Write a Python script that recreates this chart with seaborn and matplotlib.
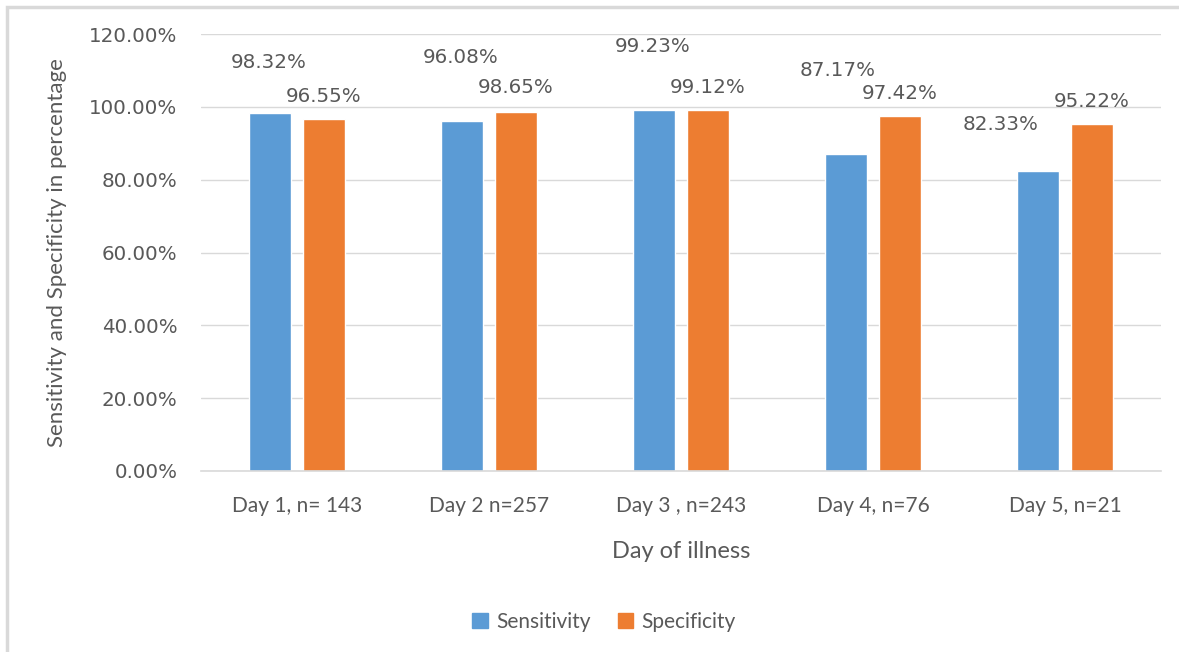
import numpy as np
import pandas as pd
import seaborn as sns
import matplotlib.pyplot as plt
from matplotlib.patches import Rectangle, Patch

# data
days = ["Day 1, n= 143", "Day 2 n=257", "Day 3 , n=243", "Day 4, n=76", "Day 5, n=21"]
sensitivity = [98.32, 96.08, 99.23, 87.17, 82.33]
specificity = [96.55, 98.65, 99.12, 97.42, 95.22]
y_ticks = [0, 20, 40, 60, 80, 100, 120]

# label nudges (pixels), the sensitivity labels were dragged around in the original
sens_dx = [-1, -1, -1, -8, -38]
sens_dy = [50, 64, 63, 83, 47]
spec_dx = [0, 0, 0, 0, 0]
spec_dy = [23, 24, 23, 23, 23]

BLUE = "#5B9BD5"
ORANGE = "#ED7D31"
GRID = "#D9D9D9"
TEXT = "#595959"

df = pd.DataFrame({
    "Day": days * 2,
    "Measure": ["Sensitivity"] * len(days) + ["Specificity"] * len(days),
    "Value": sensitivity + specificity,
})

sns.set_theme(style="white")
plt.rcParams['font.family'] = ['DejaVu Sans']

fig = plt.figure(figsize=(11.79, 6.52), dpi=100)
ax = fig.add_axes([201 / 1179, 1 - 471 / 652, 960 / 1179, 437 / 652])

sns.barplot(data=df, x="Day", y="Value", hue="Measure", order=days,
            palette={"Sensitivity": BLUE, "Specificity": ORANGE},
            width=0.56, gap=0.22, ax=ax, legend=False, saturation=1)

ax.set_xlim(-0.5, len(days) - 0.5)
ax.set_ylim(0, 120)
ax.set_yticks(y_ticks)
ax.set_yticklabels([f"{t:.2f}%" for t in y_ticks], fontsize=14.3, color=TEXT)
ax.yaxis.grid(True, color=GRID, linewidth=1)
ax.set_axisbelow(True)
for s in ["top", "right", "left"]:
    ax.spines[s].set_visible(False)
ax.spines["bottom"].set_color(GRID)
ax.spines["bottom"].set_linewidth(1.2)
ax.tick_params(axis="both", length=0)
ax.tick_params(axis="y", pad=17)
ax.tick_params(axis="x", pad=18)
for lbl in ax.get_xticklabels():
    lbl.set_fontfamily("Lato")
    lbl.set_fontsize(15)
    lbl.set_color(TEXT)

ax.set_xlabel("Day of illness", family="Lato", fontsize=17, color=TEXT, labelpad=18)
ax.set_ylabel("Sensitivity and Specificity in percentage", family="Lato",
              fontsize=16, color=TEXT, labelpad=16)

# data labels
for i in range(len(days)):
    ax.annotate(f"{sensitivity[i]:.2f}%", (i - 0.14, sensitivity[i]),
                xytext=(sens_dx[i], sens_dy[i]), textcoords="offset pixels",
                ha="center", va="center", fontsize=14.3, color=TEXT)
    ax.annotate(f"{specificity[i]:.2f}%", (i + 0.14, specificity[i]),
                xytext=(spec_dx[i], spec_dy[i]), textcoords="offset pixels",
                ha="center", va="center", fontsize=14.3, color=TEXT)

handles = [Patch(color=BLUE, label="Sensitivity"), Patch(color=ORANGE, label="Specificity")]
fig.legend(handles=handles, loc="center", bbox_to_anchor=(604 / 1179, 1 - 622 / 652),
           ncol=2, frameon=False, prop={"family": "Lato", "size": 15},
           handlelength=0.75, handleheight=0.75, handletextpad=0.4,
           columnspacing=1.3, labelcolor=TEXT)

# light frame of the chart area, right/bottom edges fall outside the image
fig.patches.append(Rectangle((7 / 1179, -0.05), 1.1, 1 - 7 / 652 + 0.05,
                             transform=fig.transFigure, fill=False,
                             edgecolor=GRID, linewidth=2.5))

fig.savefig("out.png", dpi=100)
